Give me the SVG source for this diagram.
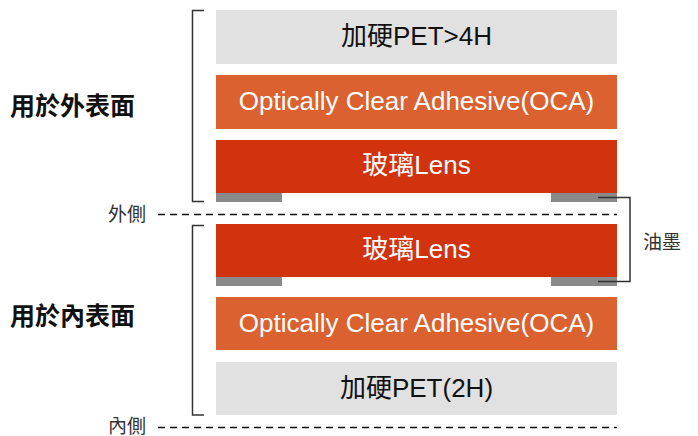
<svg xmlns="http://www.w3.org/2000/svg" width="698" height="436" viewBox="0 0 698 436">
<style>
text{font-family:"Liberation Sans","Noto Sans CJK TC",sans-serif;}
.lbl{font-size:26px;text-anchor:middle;}
.dk{fill:#111;}
.wt{fill:#fff;}
.pet{fill:#e0e1e0;}
.oca{fill:#db6130;}
.lens{fill:#d1330e;}
.tab{fill:#8a8a8a;}
.br{fill:none;stroke:#333;stroke-width:1.5;}
.dash{stroke:#111;stroke-width:1.5;stroke-dasharray:7 5;}
.side{font-size:25px;font-weight:bold;fill:#111;}
.small{font-size:19px;fill:#333;}
</style>
<g id="pet1"><rect class="pet" x="216" y="10" width="401" height="54"/><text class="lbl dk" x="416.5" y="45">加硬PET&gt;4H</text></g>
<g id="oca1"><rect class="oca" x="216" y="75" width="401" height="54"/><text class="lbl wt" x="416.5" y="110">Optically Clear Adhesive(OCA)</text></g>
<g id="lens1"><rect class="lens" x="216" y="140" width="401" height="53"/><rect class="tab" x="216" y="193" width="66" height="9"/><rect class="tab" x="551" y="193" width="66" height="9"/><text class="lbl wt" x="416.5" y="174">玻璃Lens</text></g>
<g id="lens2"><rect class="lens" x="216" y="224" width="401" height="53"/><rect class="tab" x="216" y="277" width="66" height="9"/><rect class="tab" x="551" y="277" width="66" height="9"/><text class="lbl wt" x="416.5" y="258">玻璃Lens</text></g>
<g id="oca2"><rect class="oca" x="216" y="297" width="401" height="53"/><text class="lbl wt" x="416.5" y="332">Optically Clear Adhesive(OCA)</text></g>
<g id="pet2"><rect class="pet" x="216" y="362" width="401" height="53"/><text class="lbl dk" x="416.5" y="397">加硬PET(2H)</text></g>
<g id="outer-label"><text class="side" x="10" y="115">用於外表面</text></g>
<g id="inner-label"><text class="side" x="10" y="325">用於內表面</text></g>
<g id="outside"><text class="small" x="108" y="221">外側</text></g>
<g id="inside"><text class="small" x="108" y="433">內側</text></g>
<g id="ink"><text class="small" x="643" y="249">油墨</text></g>
<g id="connectors">
<line class="dash" x1="158" y1="214.5" x2="617" y2="214.5"/>
<line class="dash" x1="158" y1="427.5" x2="617" y2="427.5"/>
<polyline class="br" points="204,10.5 192.5,10.5 192.5,201.5 204,201.5"/>
<polyline class="br" points="204,225.5 192.5,225.5 192.5,415 204,415"/>
<polyline class="br" points="598,197.5 630,197.5 630,281.5 598,281.5"/>
</g>
</svg>
